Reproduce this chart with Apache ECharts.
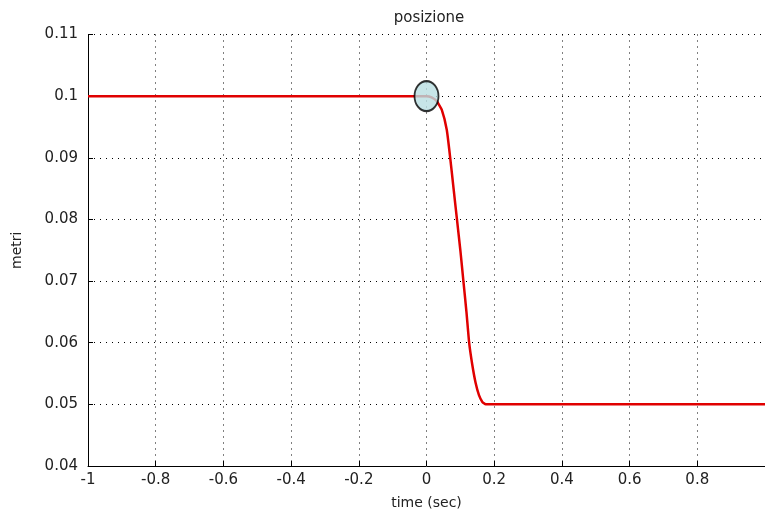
<!DOCTYPE html>
<html>
<head>
<meta charset="utf-8">
<script src="https://cdn.jsdelivr.net/npm/echarts@6/dist/echarts.min.js"></script>
<style>
  html, body { margin: 0; padding: 0; background: #fff; }
  #chart { width: 765px; height: 515px; }
</style>
</head>
<body>
<div id="chart"></div>
<script>
// time (sec) and position (m)
const timeData = [-1, 0, 0.015, 0.03, 0.045, 0.06, 0.07, 0.08, 0.09, 0.1, 0.109, 0.118, 0.126, 0.135, 0.145, 0.155, 0.165, 0.175, 1];
const posData = [0.1, 0.1, 0.0998, 0.0992, 0.0978, 0.0945, 0.09, 0.085, 0.08, 0.075, 0.07, 0.065, 0.06, 0.0565, 0.0535, 0.0515, 0.0504, 0.05, 0.05];
const markerPoint = [0, 0.1];

const font = 'DejaVu Sans';
const textColor = '#222';

const chart = echarts.init(document.getElementById('chart'));

chart.setOption({
  animation: false,
  backgroundColor: '#fff',
  title: {
    text: 'posizione',
    left: 424,
    top: 6,
    textAlign: 'center',
    textStyle: { fontFamily: font, fontSize: 15, fontWeight: 'normal', color: textColor }
  },
  grid: { left: 88, right: -3, top: 34.5, bottom: 45 },
  xAxis: {
    type: 'value',
    min: -1,
    max: 1,
    interval: 0.2,
    name: 'time (sec)',
    nameLocation: 'middle',
    nameGap: 30,
    nameTextStyle: { fontFamily: font, fontSize: 14, color: textColor },
    axisLine: { onZero: false, lineStyle: { color: '#000', width: 1 } },
    axisTick: { inside: true, length: 5, lineStyle: { color: '#000' } },
    axisLabel: {
      showMaxLabel: false,
      margin: 7,
      fontFamily: font, fontSize: 15, color: textColor,
      formatter: v => String(+v.toFixed(1))
    },
    splitLine: { show: true, lineStyle: { color: '#000', width: 1, type: [1, 5] } }
  },
  yAxis: {
    type: 'value',
    min: 0.04,
    max: 0.11,
    interval: 0.01,
    name: 'metri',
    nameLocation: 'middle',
    nameGap: 64,
    nameTextStyle: { fontFamily: font, fontSize: 14, color: textColor },
    axisLine: { show: true, onZero: false, lineStyle: { color: '#000', width: 1 } },
    axisTick: { show: true, inside: true, length: 5, lineStyle: { color: '#000' } },
    axisLabel: {
      margin: 10,
      fontFamily: font, fontSize: 15, color: textColor,
      formatter: v => String(+v.toFixed(2))
    },
    splitLine: { show: true, lineStyle: { color: '#000', width: 1, type: [1, 5] } }
  },
  series: [
    {
      type: 'line',
      data: timeData.map((t, i) => [t, posData[i]]),
      smooth: 0.15,
      showSymbol: false,
      lineStyle: { color: '#e00000', width: 2.5 },
      z: 2
    },
    {
      type: 'scatter',
      data: [markerPoint],
      symbol: 'circle',
      symbolSize: [24, 30],
      itemStyle: { color: '#b9dfe2', borderColor: '#000', borderWidth: 2 },
      z: 3
    }
  ]
});
</script>
</body>
</html>
